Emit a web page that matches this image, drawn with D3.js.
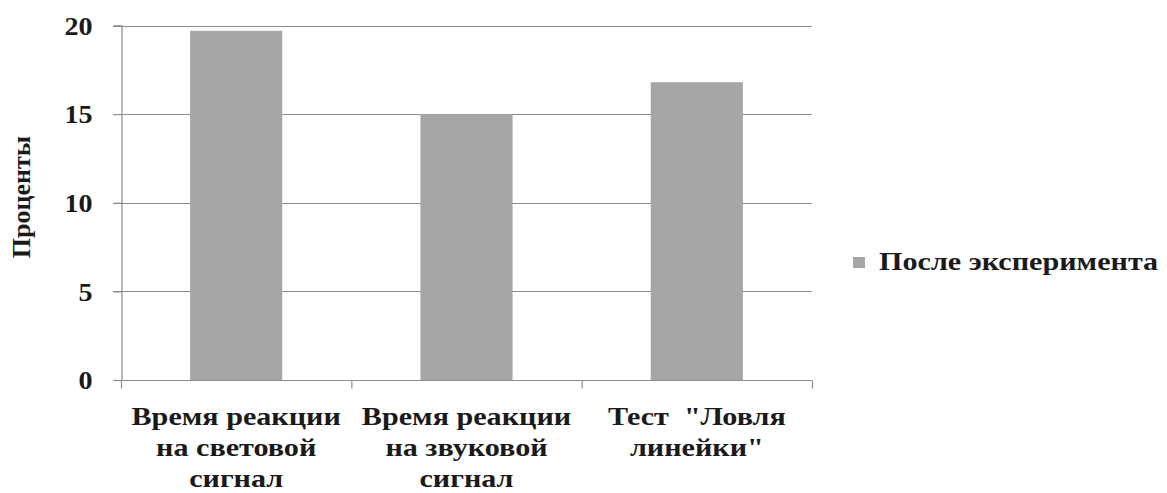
<!DOCTYPE html>
<html>
<head>
<meta charset="utf-8">
<script src="https://cdn.jsdelivr.net/npm/d3@7"></script>
<style>
  body { margin: 0; background: #fff; }
</style>
</head>
<body>
<div class="my-graph"></div>
<script>
const categories = [
  ['Время реакции', 'на световой', 'сигнал'],
  ['Время реакции', 'на звуковой', 'сигнал'],
  ['Тест  "Ловля', 'линейки"']
]
const values = [19.7, 15.0, 16.8]
const yTicks = [0, 5, 10, 15, 20]
const seriesName = 'После эксперимента'
const yTitle = 'Проценты'

const width = 1167
const height = 493
const margin = { top: 25.5, left: 121, right: 355, bottom: 113 }
const font = '"Liberation Serif", "Times New Roman", serif'
const stretch = 1.16 // the source picture is a bit wider than tall

const svg = d3.select('.my-graph')
  .append('svg')
  .attr('width', width)
  .attr('height', height)

const xScale = d3.scaleBand()
  .domain(d3.range(values.length))
  .range([margin.left, width - margin.right])
  .paddingInner(0.6)
  .paddingOuter(0.3)

const yScale = d3.scaleLinear()
  .domain([0, 20])
  .range([height - margin.bottom, margin.top])

const styleText = sel => sel
  .style('font-family', font)
  .style('font-weight', 'bold')
  .style('font-size', '26px')
  .style('fill', '#1a1a1a')

// gridlines
svg.append('g')
  .selectAll('line')
  .data(yTicks.filter(d => d > 0))
  .enter().append('line')
  .attr('x1', margin.left - 8)
  .attr('x2', width - margin.right)
  .attr('y1', d => Math.round(yScale(d)) + 0.5)
  .attr('y2', d => Math.round(yScale(d)) + 0.5)
  .attr('stroke', '#8c8c8c')
  .attr('stroke-width', 1.2)

// bars
svg.append('g')
  .selectAll('rect')
  .data(values)
  .enter().append('rect')
  .attr('x', (d, i) => xScale(i))
  .attr('y', d => yScale(d))
  .attr('width', xScale.bandwidth())
  .attr('height', d => yScale(0) - yScale(d))
  .attr('fill', '#a6a6a6')

// y axis
const yAxis = svg.append('g')
  .attr('transform', `translate(${margin.left + 0.5}, 0)`)
  .call(d3.axisLeft(yScale).tickValues(yTicks).tickSize(8))
yAxis.select('.domain').attr('stroke', '#8c8c8c').attr('stroke-width', 1.2)
yAxis.selectAll('.tick line').attr('stroke', '#8c8c8c').attr('stroke-width', 1.2)
yAxis.selectAll('.tick text')
  .call(styleText)
  .attr('x', 0)
  .attr('dy', '0.34em')
  .attr('transform', 'translate(-29, 0) scale(1.08, 1)')

// x axis
const step = (width - margin.right - margin.left) / values.length
const xAxis = svg.append('g')
  .attr('transform', `translate(0, ${Math.round(yScale(0)) + 0.5})`)
xAxis.append('line')
  .attr('x1', margin.left)
  .attr('x2', width - margin.right)
  .attr('stroke', '#8c8c8c')
  .attr('stroke-width', 1.2)
xAxis.selectAll('.xtick')
  .data(d3.range(values.length + 1))
  .enter().append('line')
  .attr('x1', i => margin.left + i * step + 0.5)
  .attr('x2', i => margin.left + i * step + 0.5)
  .attr('y1', 0)
  .attr('y2', 8)
  .attr('stroke', '#8c8c8c')
  .attr('stroke-width', 1.2)

const labels = svg.append('g')
  .selectAll('g')
  .data(categories)
  .enter().append('g')
  .attr('transform', (d, i) => `translate(${xScale(i) + xScale.bandwidth() / 2}, ${yScale(0) + 45}) scale(${stretch}, 1)`)
  .append('text')
  .attr('text-anchor', 'middle')
  .call(styleText)
labels.selectAll('tspan')
  .data(d => d)
  .enter().append('tspan')
  .attr('x', 0)
  .attr('dy', (d, i) => i === 0 ? 0 : 31)
  .style('white-space', 'pre')
  .text(d => d)

// y title
svg.append('text')
  .attr('transform', `translate(30, 197) rotate(-90)`)
  .attr('text-anchor', 'middle')
  .call(styleText)
  .text(yTitle)

// legend
const legend = svg.append('g').attr('transform', 'translate(853, 257)')
legend.append('rect')
  .attr('width', 12)
  .attr('height', 11)
  .attr('fill', '#a6a6a6')
legend.append('text')
  .attr('transform', `translate(26, 13) scale(${stretch}, 1)`)
  .call(styleText)
  .text(seriesName)
</script>
</body>
</html>
